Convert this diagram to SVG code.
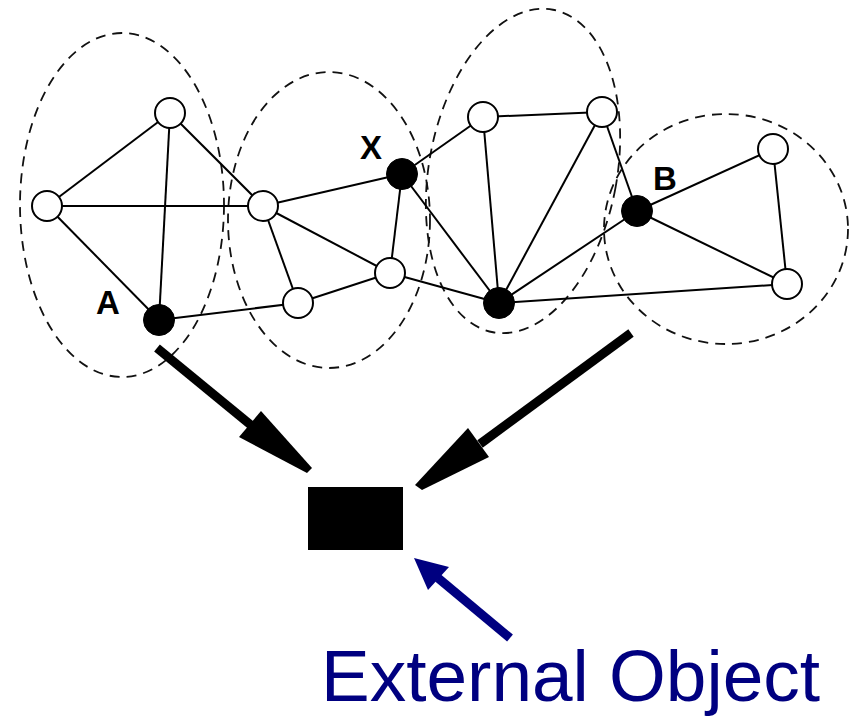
<svg xmlns="http://www.w3.org/2000/svg" width="856" height="718" viewBox="0 0 856 718">
  <style>
    .region { fill: none; stroke: #111; stroke-width: 1.8; stroke-dasharray: 10 7; }
    .edge { stroke: #000; stroke-width: 2; fill: none; }
    .open { fill: #fff; stroke: #000; stroke-width: 2; }
    .solid { fill: #000; stroke: #000; stroke-width: 1; }
    .lbl { font-family: "Liberation Sans", Arial, sans-serif; font-weight: bold; font-size: 33px; fill: #000; text-anchor: middle; }
    .thick { stroke: #000; stroke-width: 9; stroke-linecap: butt; fill: none; }
  </style>
  <rect width="856" height="718" fill="#fff"/>

  <!-- dashed cluster boundaries -->
  <g id="regions">
    <ellipse class="region" cx="122" cy="205" rx="102" ry="172"/>
    <ellipse class="region" cx="329" cy="220" rx="101" ry="148"/>
    <ellipse class="region" cx="523" cy="171" rx="94" ry="164" transform="rotate(10.5 523 171)"/>
    <ellipse class="region" cx="726" cy="229" rx="122" ry="115"/>
  </g>

  <!-- links between nodes -->
  <g id="connectors">
    <line class="edge" x1="170" y1="113" x2="47" y2="206"/>
    <line class="edge" x1="170" y1="113" x2="159" y2="320"/>
    <line class="edge" x1="170" y1="113" x2="263" y2="206"/>
    <line class="edge" x1="47" y1="206" x2="263" y2="206"/>
    <line class="edge" x1="47" y1="206" x2="159" y2="320"/>
    <line class="edge" x1="159" y1="320" x2="298" y2="303"/>
    <line class="edge" x1="263" y1="206" x2="402" y2="174"/>
    <line class="edge" x1="263" y1="206" x2="390" y2="273"/>
    <line class="edge" x1="263" y1="206" x2="298" y2="303"/>
    <line class="edge" x1="298" y1="303" x2="390" y2="273"/>
    <line class="edge" x1="402" y1="174" x2="390" y2="273"/>
    <line class="edge" x1="402" y1="174" x2="483" y2="117"/>
    <line class="edge" x1="402" y1="174" x2="499" y2="303"/>
    <line class="edge" x1="390" y1="273" x2="499" y2="303"/>
    <line class="edge" x1="483" y1="117" x2="602" y2="112"/>
    <line class="edge" x1="483" y1="117" x2="499" y2="303"/>
    <line class="edge" x1="602" y1="112" x2="499" y2="303"/>
    <line class="edge" x1="602" y1="112" x2="637" y2="211"/>
    <line class="edge" x1="637" y1="211" x2="499" y2="303"/>
    <line class="edge" x1="637" y1="211" x2="773" y2="149"/>
    <line class="edge" x1="637" y1="211" x2="787" y2="284"/>
    <line class="edge" x1="773" y1="149" x2="787" y2="284"/>
    <line class="edge" x1="499" y1="303" x2="787" y2="284"/>
  </g>

  <!-- nodes -->
  <g id="n1"><circle class="open" cx="170" cy="113" r="15"/></g>
  <g id="n2"><circle class="open" cx="47" cy="206" r="15"/></g>
  <g id="n3"><circle class="open" cx="263" cy="206" r="15"/></g>
  <g id="nodeA"><circle class="solid" cx="159" cy="320" r="15.5"/><text class="lbl" x="108" y="314">A</text></g>
  <g id="n5"><circle class="open" cx="298" cy="303" r="15"/></g>
  <g id="nodeX"><circle class="solid" cx="402" cy="174" r="15.5"/><text class="lbl" x="371" y="159">X</text></g>
  <g id="n7"><circle class="open" cx="390" cy="273" r="15"/></g>
  <g id="n8"><circle class="open" cx="483" cy="117" r="15"/></g>
  <g id="n9"><circle class="open" cx="602" cy="112" r="15"/></g>
  <g id="n10"><circle class="solid" cx="499" cy="303" r="15.5"/></g>
  <g id="nodeB"><circle class="solid" cx="637" cy="211" r="15.5"/><text class="lbl" x="665" y="190">B</text></g>
  <g id="n12"><circle class="open" cx="773" cy="149" r="15"/></g>
  <g id="n13"><circle class="open" cx="787" cy="284" r="15"/></g>

  <!-- external object -->
  <g id="external">
    <rect x="308" y="487" width="95" height="63" fill="#000"/>
  </g>

  <!-- heavy arrows into the external object -->
  <g id="arrows">
    <line class="thick" x1="157" y1="348" x2="252" y2="426"/>
    <polygon points="261,411 312,468 307,473 239,437" fill="#000"/>
    <line class="thick" x1="631" y1="333" x2="480" y2="444"/>
    <polygon points="468,428 489,457 422,490 415,485" fill="#000"/>
    <line x1="438" y1="578" x2="510" y2="638" stroke="#000080" stroke-width="9"/>
    <polygon points="414,558 449,567 428,590" fill="#000080"/>
  </g>

  <g id="caption">
    <text x="321" y="701" font-family="'Liberation Sans', Arial, sans-serif" font-size="73" fill="#000080">External Object</text>
  </g>
</svg>
